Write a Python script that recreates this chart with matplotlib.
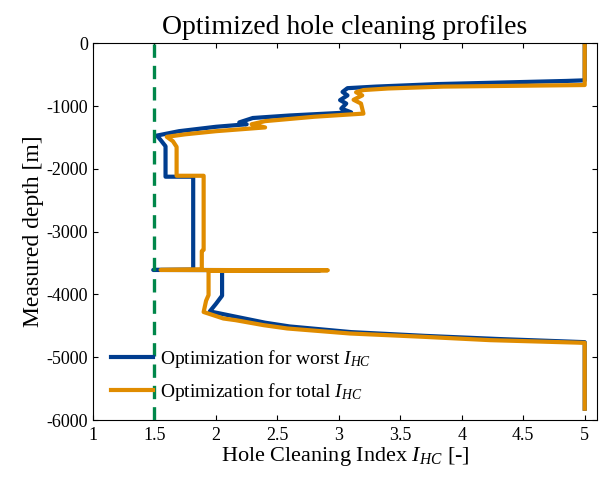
import matplotlib
matplotlib.use('Agg')
import matplotlib.pyplot as plt

# Hole cleaning index profiles along measured depth
WORST_IHC = [5.0, 5.0, 4.85, 3.8, 3.3, 3.07, 3.03, 3.07, 3.01, 3.06, 3.02, 3.1,
             2.6, 2.3, 2.19, 2.25, 2.0, 1.7, 1.52, 1.55, 1.59, 1.59, 1.815,
             1.815, 1.49, 2.85, 2.05, 2.05, 2.0, 1.95, 2.1, 2.4, 2.6, 3.1,
             3.7, 4.3, 5.0, 5.0]
WORST_DEPTH = [0, -590, -600, -650, -690, -715, -775, -830, -905, -960, -1040,
               -1100, -1150, -1190, -1260, -1290, -1330, -1400, -1470, -1540,
               -1640, -2125, -2125, -3605, -3610, -3615, -3625, -4020, -4150,
               -4270, -4330, -4450, -4510, -4600, -4660, -4710, -4760, -5820]

TOTAL_IHC = [5.0, 5.0, 3.85, 3.4, 3.2, 3.14, 3.19, 3.12, 3.18, 3.2, 2.8, 2.4,
             2.29, 2.4, 2.0, 1.75, 1.6, 1.65, 1.68, 1.68, 1.9, 1.9, 1.885,
             1.885, 1.55, 2.91, 1.94, 1.94, 1.92, 1.90, 2.06, 2.16, 2.39, 2.58,
             3.09, 3.69, 4.23, 5.0, 5.0]
TOTAL_DEPTH = [0, -665, -690, -720, -745, -780, -830, -900, -960, -1120, -1170,
               -1240, -1290, -1340, -1400, -1450, -1490, -1560, -1650, -2110,
               -2110, -3290, -3310, -3600, -3610, -3615, -3625, -4010, -4100,
               -4280, -4383, -4410, -4490, -4542, -4622, -4675, -4728, -4771,
               -5820]

IHC_LIMIT = 1.5
X_TICKS = [1, 1.5, 2, 2.5, 3, 3.5, 4, 4.5, 5]
Y_TICKS = [0, -1000, -2000, -3000, -4000, -5000, -6000]

plt.rcParams['font.family'] = ['Liberation Serif', 'DejaVu Serif']
plt.rcParams['mathtext.fontset'] = 'custom'
plt.rcParams['mathtext.rm'] = 'Liberation Serif'
plt.rcParams['mathtext.it'] = 'Liberation Serif:italic'
plt.rcParams['axes.unicode_minus'] = False

fig = plt.figure(figsize=(6.02, 4.83), dpi=100)
ax = fig.add_axes([0.1545, 0.1304, 0.8372, 0.78])

ax.axvline(IHC_LIMIT, color='#00874A', lw=2.4, ls=(0, (4.0, 2.4)), zorder=3)
ax.plot(WORST_IHC, WORST_DEPTH, color='#003D8F', lw=3.0,
        label=r'Optimization for worst $I_{HC}$', zorder=1)
ax.plot(TOTAL_IHC, TOTAL_DEPTH, color='#E08C00', lw=3.0,
        label=r'Optimization for total $I_{HC}$', zorder=2)

ax.set_xlim(1, 5.1)
ax.set_ylim(-6000, 0)
ax.set_xticks(X_TICKS)
ax.set_xticklabels([f'{v:g}' for v in X_TICKS])
ax.set_yticks(Y_TICKS)
ax.tick_params(direction='in', top=True, right=True, length=3.5, width=0.8,
               labelsize=13)
ax.tick_params(axis='x', pad=5)
for s in ax.spines.values():
    s.set_linewidth(0.8)

ax.set_title('Optimized hole cleaning profiles', fontsize=20, pad=7)
ax.set_xlabel(r'Hole Cleaning Index $I_{HC}$ [-]', fontsize=16, labelpad=1)
ax.set_ylabel('Measured depth [m]', fontsize=17, labelpad=2)

ax.legend(loc='lower left', frameon=False, fontsize=14, handlelength=2.2,
          handletextpad=0.35, labelspacing=0.55,
          bbox_to_anchor=(0.0, 0.0))

fig.savefig('out.png', dpi=100, facecolor='white')
